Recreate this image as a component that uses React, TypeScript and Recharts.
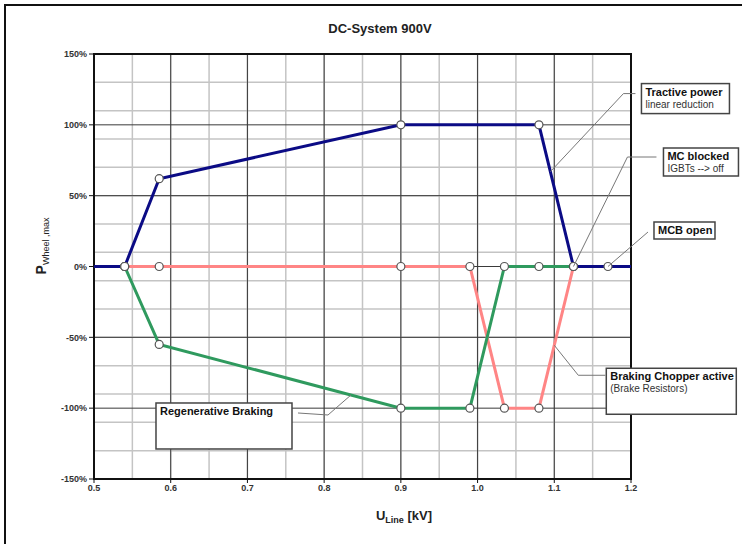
import React from 'react';
import { LineChart, Line, XAxis, YAxis, CartesianGrid, ReferenceArea, ReferenceDot } from 'recharts';

const FONT = "'Liberation Sans Narrow', 'Liberation Sans', Arial, sans-serif";

const xTicks = [0.5, 0.6, 0.7, 0.8, 0.9, 1.0, 1.1, 1.2];
const xMinor = [0.5, 0.55, 0.6, 0.65, 0.7, 0.75, 0.8, 0.85, 0.9, 0.95, 1.0, 1.05, 1.1, 1.15, 1.2];
const yTicks = [-150, -100, -50, 0, 50, 100, 150];
const yMinor = [-150, -140, -130, -120, -110, -100, -90, -80, -70, -60, -50, -40, -30, -20, -10, 0, 10, 20, 30, 40, 50, 60, 70, 80, 90, 100, 110, 120, 130, 140, 150];

const tractiveX = [0.5, 0.54, 0.585, 0.9, 1.08, 1.125, 1.17, 1.2];
const tractiveY = [0, 0, 62, 100, 100, 0, 0, 0];
const regenX = [0.54, 0.585, 0.9, 0.99, 1.035, 1.08, 1.125];
const regenY = [0, -55, -100, -100, 0, 0, 0];
const chopperX = [0.54, 0.585, 0.9, 0.99, 1.035, 1.08, 1.125];
const chopperY = [0, 0, 0, 0, -100, -100, 0];

const toRows = (xs: number[], ys: number[]) => xs.map((x, i) => ({ x, y: ys[i] }));
const tractive = toRows(tractiveX, tractiveY);
const regen = toRows(regenX, regenY);
const chopper = toRows(chopperX, chopperY);

const markerDot = (props: any) => {
  const { cx, cy, payload, index } = props;
  if (payload.x <= 0.5 || payload.x >= 1.2) return <g key={`n${index}`} />;
  return <circle key={`d${index}`} cx={cx} cy={cy} r={4} fill="#fff" stroke="#555" strokeWidth={1.2} />;
};

type Callout = {
  path: [number, number][];
  box: [number, number, number, number];
  lines: { text: string; bold: boolean; size: number }[];
};

const makeCallout = (c: Callout) => (props: any) => {
  const { cx, cy } = props;
  const pts = [[0, 0], ...c.path].map(([dx, dy]) => `${cx + dx},${cy + dy}`).join(' ');
  const [bx, by, bw, bh] = c.box;
  return (
    <g>
      <polyline points={pts} fill="none" stroke="#777" strokeWidth={1} />
      <rect x={cx + bx} y={cy + by} width={bw} height={bh} fill="#fff" stroke="#444" strokeWidth={1.5} />
      {c.lines.map((l, i) => (
        <text key={i} x={cx + bx + 4} y={cy + by + 12 + i * 12} fontSize={l.size} fontWeight={l.bold ? 'bold' : 'normal'} fill={l.bold ? '#111' : '#333'} fontFamily={FONT}>
          {l.text}
        </text>
      ))}
    </g>
  );
};

const tractiveCallout = makeCallout({
  path: [[73, -78], [85, -78]],
  box: [91, -88, 88, 30],
  lines: [{ text: 'Tractive power', bold: true, size: 11 }, { text: 'linear reduction', bold: false, size: 10 }],
});
const mcCallout = makeCallout({
  path: [[54, -109.5], [83, -109.5]],
  box: [90, -118.5, 75, 28],
  lines: [{ text: 'MC blocked', bold: true, size: 11 }, { text: 'IGBTs  --> off', bold: false, size: 10 }],
});
const mcbCallout = makeCallout({
  path: [[40, -34.5]],
  box: [46, -44.5, 61, 17],
  lines: [{ text: 'MCB open', bold: true, size: 11 }],
});
const chopperCallout = makeCallout({
  path: [[24, 30], [51, 30]],
  box: [52, 23, 130, 46],
  lines: [{ text: 'Braking Chopper active', bold: true, size: 11 }, { text: '(Brake Resistors)', bold: false, size: 10 }],
});
const regenCallout = makeCallout({
  path: [[-23, 20], [-53, 18]],
  box: [-195, 8, 136, 46],
  lines: [{ text: 'Regenerative Braking', bold: true, size: 11 }],
});

export default function App() {
  const tickStyle = { fontSize: 9, fontWeight: 'bold', fill: '#333', fontFamily: FONT };
  return (
    <div style={{ position: 'absolute', left: 0, top: 0, width: 742, height: 544, overflow: 'hidden', background: '#fff' }}>
      <div style={{ position: 'absolute', left: 4, top: 4, width: 800, height: 600, borderLeft: '2px solid #111', borderTop: '2px solid #111' }} />
      <LineChart width={742} height={544} margin={{ top: 54, right: 111, bottom: 45, left: 54 }} style={{ position: 'absolute', left: 0, top: 0 }}>
        <CartesianGrid horizontalValues={yMinor} verticalValues={xMinor} stroke="#c4c4c4" strokeWidth={1.5} />
        <CartesianGrid horizontalValues={yTicks} verticalValues={xTicks} stroke="#3a3a3a" strokeWidth={1} />
        <XAxis
          type="number"
          dataKey="x"
          domain={[0.5, 1.2]}
          ticks={xTicks}
          allowDataOverflow
          tickFormatter={(v: number) => v.toFixed(1)}
          height={20}
          axisLine={false}
          tickLine={{ stroke: '#111' }}
          tickSize={4}
          tick={tickStyle}
        />
        <YAxis
          type="number"
          dataKey="y"
          domain={[-150, 150]}
          ticks={yTicks}
          allowDataOverflow
          tickFormatter={(v: number) => `${v}%`}
          width={40}
          axisLine={false}
          tickLine={{ stroke: '#111' }}
          tickSize={5}
          tick={tickStyle}
        />
        <ReferenceArea x1={0.5} x2={1.2} y1={-150} y2={150} fill="none" fillOpacity={0} stroke="#111" strokeWidth={2} ifOverflow="visible" />
        <Line data={tractive} dataKey="y" type="linear" stroke="#0b0b85" strokeWidth={3} dot={markerDot} isAnimationActive={false} />
        <Line data={chopper} dataKey="y" type="linear" stroke="#ff8585" strokeWidth={3} dot={markerDot} isAnimationActive={false} />
        <Line data={regen} dataKey="y" type="linear" stroke="#2f9a5e" strokeWidth={3} dot={markerDot} isAnimationActive={false} />
        <ReferenceDot x={1.095} y={67} r={0} ifOverflow="visible" shape={tractiveCallout} />
        <ReferenceDot x={1.125} y={0} r={0} ifOverflow="visible" shape={mcCallout} />
        <ReferenceDot x={1.17} y={0} r={0} ifOverflow="visible" shape={mcbCallout} />
        <ReferenceDot x={1.1} y={-55.6} r={0} ifOverflow="visible" shape={chopperCallout} />
        <ReferenceDot x={0.835} y={-90.7} r={0} ifOverflow="visible" shape={regenCallout} />
      </LineChart>
      <svg width={742} height={544} style={{ position: 'absolute', left: 0, top: 0, pointerEvents: 'none' }}>
        <text x={380} y={33} textAnchor="middle" fontSize={13} fontWeight="bold" fill="#222" fontFamily={FONT}>
          DC-System 900V
        </text>
        <text x={404} y={520} textAnchor="middle" fontWeight="bold" fill="#222" fontFamily={FONT}>
          <tspan fontSize={13}>U</tspan>
          <tspan fontSize={9} dy={3}>Line</tspan>
          <tspan fontSize={13} dy={-3}> [kV]</tspan>
        </text>
        <text transform="translate(46,246) rotate(-90)" textAnchor="middle" fill="#222" fontFamily={FONT}>
          <tspan fontSize={14} fontWeight="bold">P</tspan>
          <tspan fontSize={9} dy={3}>Wheel ,max</tspan>
        </text>
      </svg>
    </div>
  );
}
